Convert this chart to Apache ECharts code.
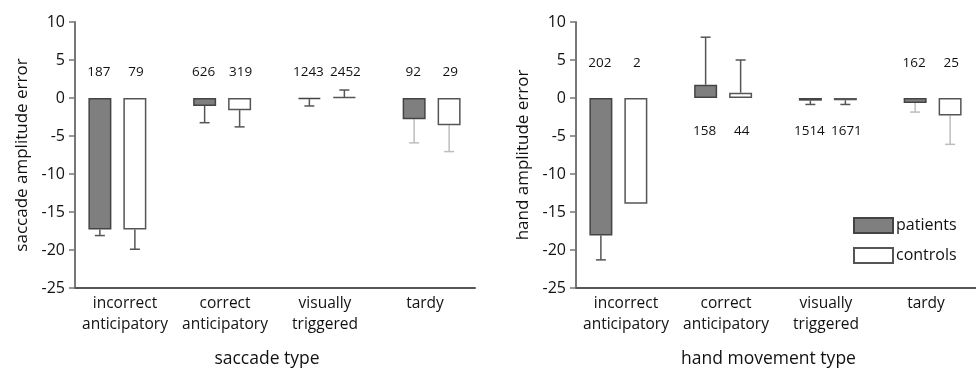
<!DOCTYPE html>
<html>
<head>
<meta charset="utf-8">
<script src="https://cdn.jsdelivr.net/npm/echarts@6/dist/echarts.min.js"></script>
<style>html,body{margin:0;padding:0;background:#fff}#c{width:976px;height:368px}</style>
</head>
<body>
<div id="c"></div>
<script>
// ---- data ----
const categories = ['incorrect\nanticipatory', 'correct\nanticipatory', 'visually\ntriggered', 'tardy'];
const yTicks = [10, 5, 0, -5, -10, -15, -20, -25];

const saccadePatients = [-17.3, -1.05, -0.15, -2.8];
const saccadeControls = [-17.3, -1.6, 0.1, -3.6];
const saccadePatientsErr = [-18.1, -3.25, -1.05, -5.9];
const saccadeControlsErr = [-19.9, -3.8, 1.05, -7.05];
const saccadePatientsN = [187, 626, 1243, 92];
const saccadeControlsN = [79, 319, 2452, 29];

const handPatients = [-18.1, 1.75, -0.35, -0.65];
const handControls = [-13.9, 0.7, -0.3, -2.3];
const handPatientsErr = [-21.3, 8.0, -0.85, -1.85];
const handControlsErr = [null, 5.0, -0.85, -6.1];
const handPatientsN = [202, 158, 1514, 162];
const handControlsN = [2, 44, 1671, 25];

// ---- rendering ----
const FONT = 'Open Sans';
const TXT = '#111';
const chart = echarts.init(document.getElementById('c'));
const BAR_W = 23, HALF = 17.5;

function axisGrid(left) { return { left: left, top: 22, width: 400, height: 266, containLabel: false, outerBoundsMode: 'none' }; }
function barGrid(left) { return { left: left - 10, top: 22, width: 419, height: 266, containLabel: false, outerBoundsMode: 'none' }; }

function visibleY(gi, name) {
  return {
    gridIndex: gi, type: 'value', min: -25, max: 10, interval: 5,
    name: name, nameLocation: 'middle', nameGap: 44,
    nameTextStyle: { fontFamily: FONT, fontSize: 17, color: TXT },
    axisLine: { show: true, lineStyle: { color: '#777', width: 2 } },
    axisTick: { show: true, length: 6, lineStyle: { color: '#777', width: 1.5 } },
    axisLabel: { fontFamily: FONT, fontSize: 16, color: TXT, margin: 10,
      formatter: v => yTicks.indexOf(v) >= 0 ? String(v) : '' },
    splitLine: { show: false }
  };
}
function hiddenY(gi) {
  return { gridIndex: gi, type: 'value', min: -25, max: 10, interval: 5, show: false, splitLine: { show: false } };
}
function visibleX(gi, name, padRight) {
  return {
    gridIndex: gi, type: 'category', data: categories,
    name: name, nameLocation: 'middle', nameGap: 62,
    nameTextStyle: { fontFamily: FONT, fontSize: 17.5, color: TXT, padding: [0, padRight, 0, 0] },
    axisLine: { show: true, onZero: false, lineStyle: { color: '#555', width: 2 } },
    axisTick: { show: false },
    axisLabel: { fontFamily: FONT, fontSize: 15.5, color: TXT, margin: 5, lineHeight: 21, interval: 0 }
  };
}
function hiddenX(gi) {
  return { gridIndex: gi, type: 'category', data: categories, show: false };
}

function barSeries(name, axisIdx, values, fill, border) {
  return {
    name: name, type: 'bar', xAxisIndex: axisIdx, yAxisIndex: axisIdx,
    barWidth: BAR_W, barGap: '52%', z: 3,
    itemStyle: { color: fill, borderColor: border, borderWidth: 1.5 },
    data: values
  };
}

function errSeries(axisIdx, barsP, barsC, errP, errC) {
  const data = [];
  for (let i = 0; i < categories.length; i++) {
    if (errP[i] !== null) data.push([i, barsP[i], errP[i], 0]);
    if (errC[i] !== null) data.push([i, barsC[i], errC[i], 1]);
  }
  return {
    type: 'custom', xAxisIndex: axisIdx, yAxisIndex: axisIdx, z: 2, silent: true,
    data: data,
    renderItem: function (params, api) {
      const cat = api.value(0), v = api.value(1), e = api.value(2), side = api.value(3);
      const b = api.coord([cat, v]);
      const t = api.coord([cat, e]);
      const x = b[0] + (side === 0 ? -HALF : HALF);
      const col = cat === 3 ? '#bdbdbd' : '#555';
      return { type: 'group', children: [
        { type: 'line', shape: { x1: x, y1: b[1], x2: x, y2: t[1] }, style: { stroke: col, lineWidth: 1.5 } },
        { type: 'line', shape: { x1: x - 5, y1: t[1], x2: x + 5, y2: t[1] }, style: { stroke: col, lineWidth: 1.5 } }
      ] };
    }
  };
}

function countSeries(axisIdx, nP, nC, labelYs) {
  const data = [];
  for (let i = 0; i < categories.length; i++) {
    data.push([i, nP[i], 0, labelYs[i]]);
    data.push([i, nC[i], 1, labelYs[i]]);
  }
  return {
    type: 'custom', xAxisIndex: axisIdx, yAxisIndex: axisIdx, z: 4, silent: true,
    data: data,
    renderItem: function (params, api) {
      const cat = api.value(0), n = api.value(1), side = api.value(2), ly = api.value(3);
      const p = api.coord([cat, ly]);
      return { type: 'text', x: p[0] + (side === 0 ? -HALF - 1 : HALF + 1), y: p[1],
        style: { text: String(n), fontFamily: FONT, fontSize: 13.5, fill: TXT, align: 'center', verticalAlign: 'middle' } };
    }
  };
}

const saccadeLabelY = [3.4, 3.4, 3.4, 3.4];
const handLabelY = [4.6, -4.3, -4.3, 4.6];

chart.setOption({
  animation: false,
  textStyle: { fontFamily: FONT },
  grid: [axisGrid(75), barGrid(75), axisGrid(576), barGrid(576)],
  xAxis: [visibleX(0, 'saccade type', 16), hiddenX(1), visibleX(2, 'hand movement type', 15), hiddenX(3)],
  yAxis: [visibleY(0, 'saccade amplitude error'), hiddenY(1), visibleY(2, 'hand amplitude error'), hiddenY(3)],
  legend: {
    left: 848, top: 212, orient: 'vertical', itemWidth: 39, itemHeight: 15, itemGap: 13,
    icon: 'rect', data: ['patients', 'controls'],
    textStyle: { fontFamily: FONT, fontSize: 16, color: TXT, padding: [0, 0, 0, -2] }
  },
  series: [
    barSeries('patients', 1, saccadePatients, '#7f7f7f', '#444'),
    barSeries('controls', 1, saccadeControls, '#ffffff', '#555'),
    errSeries(1, saccadePatients, saccadeControls, saccadePatientsErr, saccadeControlsErr),
    countSeries(1, saccadePatientsN, saccadeControlsN, saccadeLabelY),
    barSeries('patients', 3, handPatients, '#7f7f7f', '#444'),
    barSeries('controls', 3, handControls, '#ffffff', '#555'),
    errSeries(3, handPatients, handControls, handPatientsErr, handControlsErr),
    countSeries(3, handPatientsN, handControlsN, handLabelY)
  ]
});
</script>
</body>
</html>
